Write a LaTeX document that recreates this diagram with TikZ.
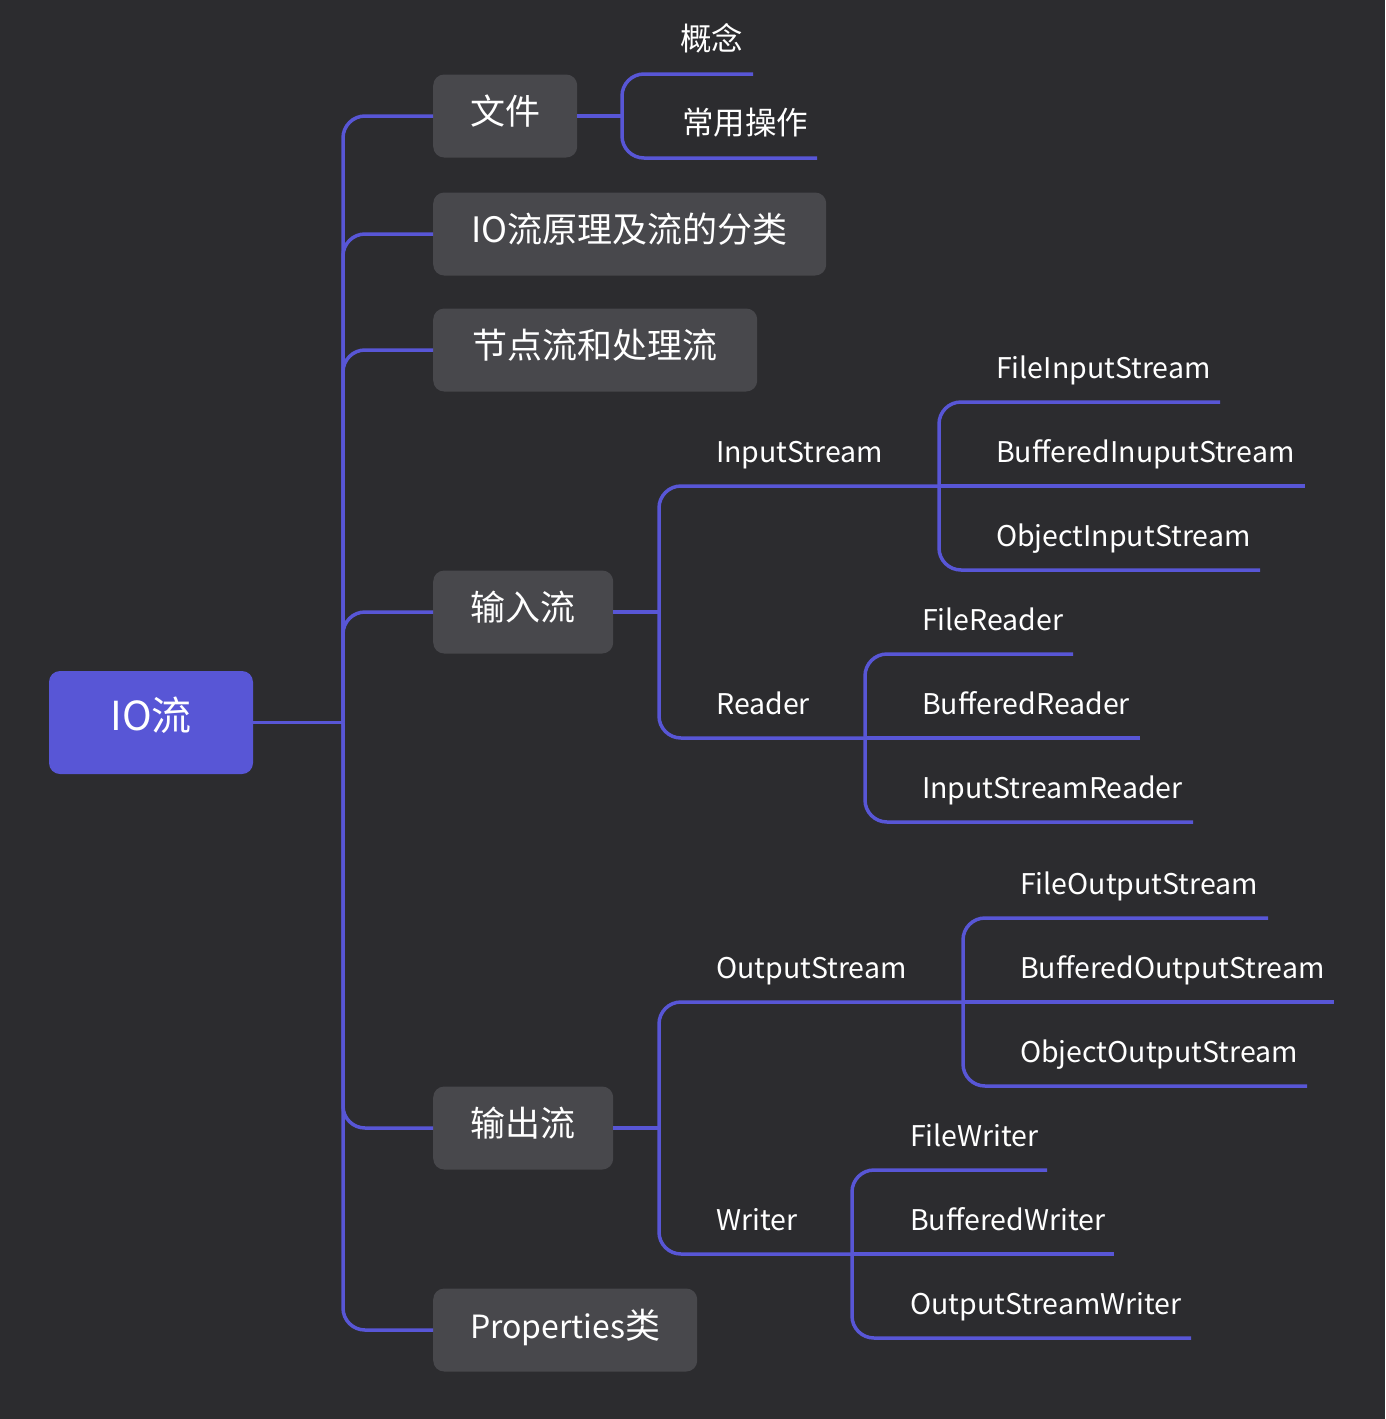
\documentclass[tikz,border=0pt]{standalone}
\usepackage{fontspec}
\setmainfont{Noto Sans CJK SC}
\definecolor{bg}{HTML}{2C2C2F}
\definecolor{edge}{HTML}{5856D6}
\definecolor{boxc}{HTML}{48484C}
\definecolor{rootc}{HTML}{5856D6}
\newcommand{\latn}[1]{{\fontsize{32}{36}\selectfont #1}}
\begin{document}
\begin{tikzpicture}[x=1pt,y=-1pt,
  conn/.style={draw=edge,line width=3.5pt,rounded corners=22pt},
  rootbox/.style={fill=rootc,rounded corners=11pt,minimum width=204pt,minimum height=103pt,
    inner sep=0pt,text=white,font=\fontsize{40}{44}\selectfont,text height=30pt,text depth=14pt},
  topic/.style={fill=boxc,rounded corners=11pt,minimum height=83pt,anchor=west,
    inner sep=0pt,text=white,font=\fontsize{35}{40}\selectfont,text height=28pt,text depth=11pt},
  leaf/.style={anchor=base west,inner sep=0pt,text=white,font=\fontsize{28.5}{32}\selectfont},
  cjkleaf/.style={leaf,font=\fontsize{31.5}{34}\selectfont}]
\fill[bg] (0,0) rectangle (1385,1419);
\useasboundingbox (0,0) rectangle (1385,1419);

% root and topics
\node[rootbox] (root) at (151,722.5) {IO流};
\node[topic,minimum width=144pt] (wj) at (433,116) {文件};
\node[topic,minimum width=393pt] (yl) at (433,234) {IO流原理及流的分类};
\node[topic,minimum width=324pt] (jd) at (433,350) {节点流和处理流};
\node[topic,minimum width=180pt] (sr) at (433,612) {输入流};
\node[topic,minimum width=180pt] (sc) at (433,1128) {输出流};
\node[topic,minimum width=264pt] (pr) at (433,1330) {\latn{Properties}类};

% junction points
\coordinate (t0) at (343,722.5);
\coordinate (jw) at (622,116);
\coordinate (ji) at (659,612);
\coordinate (jo) at (659,1128);
\coordinate (jis) at (939,486);
\coordinate (jrd) at (865,738);
\coordinate (jos) at (963,1002);
\coordinate (jwr) at (852,1254);

% leaf line ends
\coordinate (gn) at (753,74);
\coordinate (cy) at (817,158);
\coordinate (fis) at (1220,402);
\coordinate (bis) at (1305,486);
\coordinate (ois) at (1260,570);
\coordinate (fr) at (1073,654);
\coordinate (br) at (1140,738);
\coordinate (isr) at (1193,822);
\coordinate (fos) at (1268,918);
\coordinate (bos) at (1334,1002);
\coordinate (oos) at (1307,1086);
\coordinate (fw) at (1047,1170);
\coordinate (bw) at (1114,1254);
\coordinate (osw) at (1191,1338);

% texts
\node[cjkleaf] (tgn) at (680,50) {概念};
\node[cjkleaf] (tcy) at (682,134) {常用操作};
\node[leaf] (tis) at (716,462) {InputStream};
\node[leaf] (trd) at (716,714) {Reader};
\node[leaf] (tos) at (716,978) {OutputStream};
\node[leaf] (twr) at (716,1230) {Writer};
\node[leaf] (tfis) at (996,378) {FileInputStream};
\node[leaf] (tbis) at (996,462) {BufferedInuputStream};
\node[leaf] (tois) at (996,546) {ObjectInputStream};
\node[leaf] (tfr) at (922,630) {FileReader};
\node[leaf] (tbr) at (922,714) {BufferedReader};
\node[leaf] (tisr) at (922,798) {InputStreamReader};
\node[leaf] (tfos) at (1020,894) {FileOutputStream};
\node[leaf] (tbos) at (1020,978) {BufferedOutputStream};
\node[leaf] (toos) at (1020,1062) {ObjectOutputStream};
\node[leaf] (tfw) at (910,1146) {FileWriter};
\node[leaf] (tbw) at (910,1230) {BufferedWriter};
\node[leaf] (tosw) at (910,1314) {OutputStreamWriter};

% connectors
\draw[conn] (root.east) -- (t0);
\foreach \n in {wj,yl,jd,sr,sc,pr} \draw[conn] (t0) |- (\n.west);
\draw[conn] (wj.east) -- (jw);
\draw[conn] (jw) |- (gn);
\draw[conn] (jw) |- (cy);
\draw[conn] (sr.east) -- (ji);
\draw[conn] (ji) |- (jis);
\draw[conn] (ji) |- (jrd);
\draw[conn] (jis) |- (fis);
\draw[conn] (jis) -- (bis);
\draw[conn] (jis) |- (ois);
\draw[conn] (jrd) |- (fr);
\draw[conn] (jrd) -- (br);
\draw[conn] (jrd) |- (isr);
\draw[conn] (sc.east) -- (jo);
\draw[conn] (jo) |- (jos);
\draw[conn] (jo) |- (jwr);
\draw[conn] (jos) |- (fos);
\draw[conn] (jos) -- (bos);
\draw[conn] (jos) |- (oos);
\draw[conn] (jwr) |- (fw);
\draw[conn] (jwr) -- (bw);
\draw[conn] (jwr) |- (osw);
\end{tikzpicture}
\end{document}
